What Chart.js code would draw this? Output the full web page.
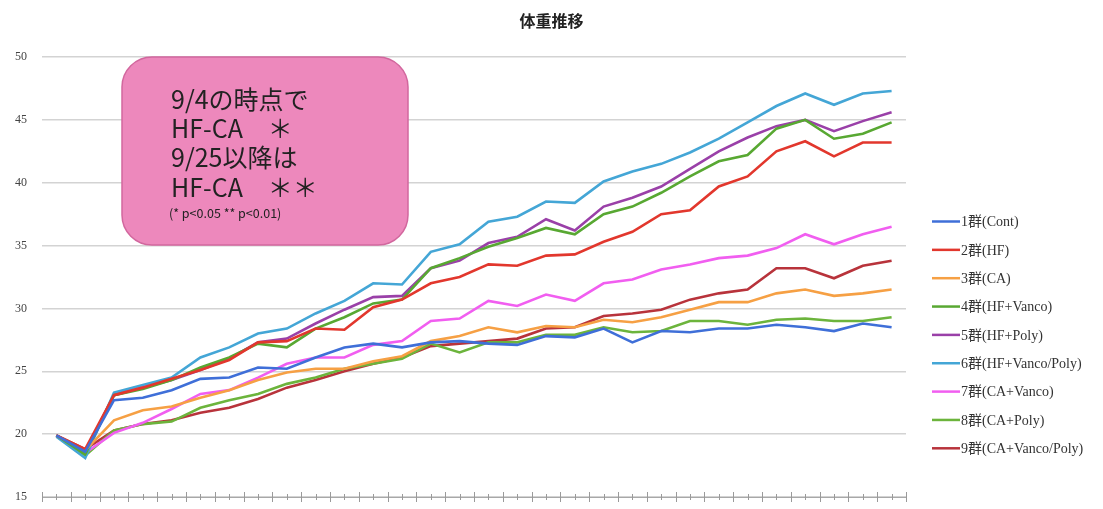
<!DOCTYPE html>
<html><head><meta charset="utf-8">
<script src="https://cdn.jsdelivr.net/npm/chart.js@4/dist/chart.umd.min.js"></script>
<style>html,body{margin:0;padding:0;background:#fff}#wrap{width:1103px;height:509px}</style>
</head><body><div id="wrap"><canvas id="c"></canvas></div>
<script>
const chartTitle = '体重推移';
const categories = ['1','2','3','4','5','6','7','8','9','10','11','12','13','14','15','16','17','18','19','20','21','22','23','24','25','26','27','28','29','30'];
const seriesNames = ['1群(Cont)','2群(HF)','3群(CA)','4群(HF+Vanco)','5群(HF+Poly)','6群(HF+Vanco/Poly)','7群(CA+Vanco)','8群(CA+Poly)','9群(CA+Vanco/Poly)'];
const seriesColors = ['#3f6fd8','#e2372d','#f6a044','#58a832','#9a40a8','#44a6d6','#f15ef0','#6cb43c','#b8333b'];
const g1 = [19.9,18.6,22.7,22.9,23.5,24.4,24.5,25.3,25.2,26.1,26.9,27.2,26.9,27.3,27.4,27.2,27.1,27.8,27.7,28.4,27.3,28.2,28.1,28.4,28.4,28.7,28.5,28.2,28.8,28.5];
const g2 = [19.9,18.8,23.1,23.7,24.4,25.1,25.9,27.3,27.4,28.4,28.3,30.1,30.7,32.0,32.5,33.5,33.4,34.2,34.3,35.3,36.1,37.5,37.8,39.7,40.5,42.5,43.3,42.1,43.2,43.2];
const g3 = [19.9,18.7,21.1,21.9,22.2,22.9,23.5,24.3,24.9,25.2,25.2,25.8,26.2,27.4,27.8,28.5,28.1,28.6,28.5,29.1,28.9,29.3,29.9,30.5,30.5,31.2,31.5,31.0,31.2,31.5];
const g4 = [19.9,18.4,23.1,23.6,24.3,25.3,26.1,27.2,26.9,28.4,29.3,30.4,30.7,33.2,34.0,34.9,35.6,36.4,35.9,37.5,38.1,39.2,40.5,41.7,42.2,44.3,45.0,43.5,43.9,44.8];
const g5 = [19.9,18.6,23.1,23.7,24.3,25.1,26.0,27.3,27.6,28.8,29.9,30.9,31.0,33.2,33.8,35.2,35.7,37.1,36.2,38.1,38.8,39.7,41.1,42.5,43.6,44.5,45.0,44.1,44.9,45.6];
const g6 = [19.8,18.1,23.3,23.9,24.5,26.1,26.9,28.0,28.4,29.6,30.6,32.0,31.9,34.5,35.1,36.9,37.3,38.5,38.4,40.1,40.9,41.5,42.4,43.5,44.8,46.1,47.1,46.2,47.1,47.3];
const g7 = [19.9,18.5,20.1,20.9,22.0,23.2,23.5,24.5,25.6,26.1,26.1,27.1,27.4,29.0,29.2,30.6,30.2,31.1,30.6,32.0,32.3,33.1,33.5,34.0,34.2,34.8,35.9,35.1,35.9,36.5];
const g8 = [19.9,18.3,20.3,20.8,21.0,22.1,22.7,23.2,24.0,24.5,25.2,25.6,26.0,27.2,26.5,27.3,27.3,27.9,27.9,28.5,28.1,28.2,29.0,29.0,28.7,29.1,29.2,29.0,29.0,29.3];
const g9 = [19.9,18.8,20.3,20.8,21.1,21.7,22.1,22.8,23.7,24.3,25.0,25.6,26.1,27.0,27.2,27.4,27.6,28.4,28.5,29.4,29.6,29.9,30.7,31.2,31.5,33.2,33.2,32.4,33.4,33.8];
const seriesValues = [g1,g2,g3,g4,g5,g6,g7,g8,g9];
const yMin = 15, yMax = 50, yStep = 5;
const noteLines = ['9/4の時点で','HF-CA　＊','9/25以降は','HF-CA　＊＊'];
const noteSmall = '(* p<0.05 ** p<0.01)';

const titlePlugin = {
  id: 'centerTitle',
  afterDraw(chart) {
    const ctx = chart.ctx;
    ctx.save();
    ctx.font = 'bold 16px "Noto Sans CJK JP", sans-serif';
    ctx.fillStyle = '#222';
    ctx.textAlign = 'center';
    ctx.textBaseline = 'middle';
    ctx.fillText(chartTitle, chart.width / 2, 21);
    ctx.restore();
  }
};

const annotationPlugin = {
  id: 'note',
  afterDatasetsDraw(chart) {
    const ctx = chart.ctx;
    ctx.save();
    const x = 122, y = 57, w = 286, h = 188, r = 30;
    ctx.beginPath();
    ctx.roundRect(x, y, w, h, r);
    ctx.fillStyle = '#ed88bc';
    ctx.fill();
    ctx.lineWidth = 1.5;
    ctx.strokeStyle = '#d2679e';
    ctx.stroke();
    ctx.fillStyle = '#222';
    ctx.textBaseline = 'middle';
    ctx.textAlign = 'left';
    ctx.font = '25px "Noto Sans CJK JP", sans-serif';
    noteLines.forEach((t, i) => ctx.fillText(t, 171, 99 + i * 29.4));
    ctx.font = '12.5px "Noto Sans CJK JP", sans-serif';
    ctx.fillText(noteSmall, 169, 213);
    ctx.restore();
  }
};

const axisTicksPlugin = {
  id: 'xticks',
  afterDraw(chart) {
    const xs = chart.scales.x, ctx = chart.ctx;
    const bottom = chart.chartArea.bottom;
    const n = categories.length;
    const step = (xs.getPixelForValue(1) - xs.getPixelForValue(0));
    ctx.save();
    ctx.strokeStyle = '#9a9a9a';
    ctx.lineWidth = 1;
    for (let i = 0; i <= n; i++) {
      const bx = xs.getPixelForValue(0) - step / 2 + i * step;
      ctx.beginPath(); ctx.moveTo(Math.round(bx) + 0.5, bottom - 5); ctx.lineTo(Math.round(bx) + 0.5, bottom + 5); ctx.stroke();
      if (i < n) {
        const cx = xs.getPixelForValue(i);
        ctx.beginPath(); ctx.moveTo(Math.round(cx) + 0.5, bottom - 3); ctx.lineTo(Math.round(cx) + 0.5, bottom + 3); ctx.stroke();
      }
    }
    ctx.restore();
  }
};

const legendPlugin = {
  id: 'customLegend',
  afterDraw(chart) {
    const ctx = chart.ctx;
    ctx.save();
    ctx.font = '14px "Liberation Serif", "Noto Sans CJK JP", serif';
    ctx.textBaseline = 'middle';
    ctx.textAlign = 'left';
    chart.data.datasets.forEach((ds, i) => {
      const y = 221.5 + i * 28.35;
      ctx.strokeStyle = ds.borderColor;
      ctx.lineWidth = 2.5;
      ctx.beginPath(); ctx.moveTo(932, y); ctx.lineTo(960, y); ctx.stroke();
      ctx.fillStyle = '#333';
      ctx.fillText(ds.label, 961, y + 1);
    });
    ctx.restore();
  }
};

new Chart(document.getElementById('c'), {
  type: 'line',
  data: {
    labels: categories,
    datasets: seriesNames.map((name, i) => ({
      label: name,
      data: seriesValues[i],
      borderColor: seriesColors[i],
      backgroundColor: seriesColors[i],
      borderWidth: 2.6,
      pointRadius: 0,
      tension: 0,
      fill: false
    }))
  },
  options: {
    responsive: true,
    maintainAspectRatio: false,
    animation: false,
    layout: { padding: { left: 0, right: 197, top: 57, bottom: 12 } },
    plugins: {
      legend: { display: false },
      tooltip: { enabled: false },
      title: { display: false }
    },
    scales: {
      x: {
        type: 'category',
        offset: true,
        afterFit(scale) { scale.height = 0; },
        grid: { display: false, drawTicks: false },
        border: { display: true, color: '#a8a8a8', width: 1 },
        ticks: { display: false, padding: 0 }
      },
      y: {
        min: yMin, max: yMax,
        afterFit(scale) { scale.width = 42; scale.paddingTop = 0; scale.paddingBottom = 0; },
        grid: { color: '#d3d3d3', lineWidth: 1.5, drawTicks: false },
        border: { display: false },
        ticks: {
          stepSize: yStep,
          padding: 15,
          color: '#444',
          font: { family: '"Liberation Serif", serif', size: 12 }
        }
      }
    }
  },
  plugins: [titlePlugin, annotationPlugin, axisTicksPlugin, legendPlugin]
});
</script>
</body></html>
